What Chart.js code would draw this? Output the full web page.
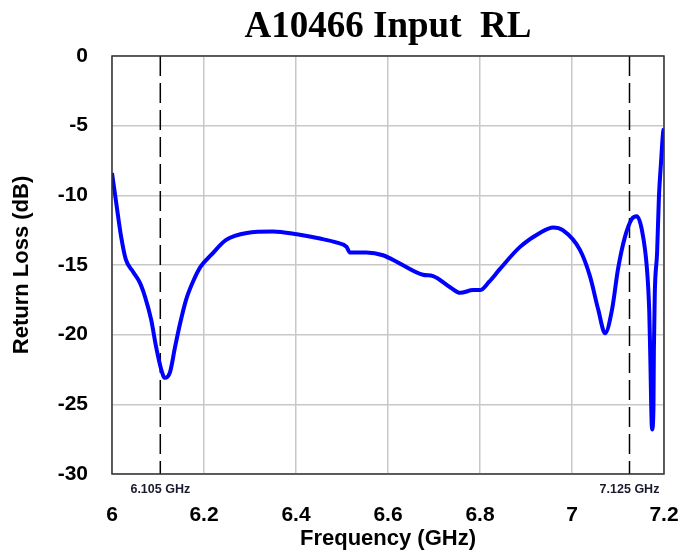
<!DOCTYPE html>
<html>
<head>
<meta charset="utf-8">
<script src="https://cdn.jsdelivr.net/npm/chart.js@4/dist/chart.umd.min.js"></script>
<style>
  html, body { margin: 0; padding: 0; background: #fff; }
  #wrap { width: 680px; height: 557px; }
</style>
</head>
<body>
<div id="wrap"><canvas id="rlChart" width="680" height="557"></canvas></div>
<script>
const freq = [6.000, 6.009, 6.020, 6.030, 6.046, 6.061, 6.072, 6.085, 6.096, 6.107, 6.115, 6.126, 6.137, 6.148, 6.161, 6.176, 6.193, 6.215, 6.248, 6.293, 6.350, 6.402, 6.452, 6.489, 6.510, 6.517, 6.530, 6.553, 6.589, 6.626, 6.676, 6.698, 6.735, 6.757, 6.785, 6.800, 6.820, 6.843, 6.887, 6.930, 6.959, 6.980, 7.017, 7.039, 7.057, 7.072, 7.087, 7.100, 7.115, 7.130, 7.141, 7.152, 7.163, 7.168, 7.170, 7.174, 7.177, 7.178, 7.180, 7.185, 7.189, 7.193, 7.198, 7.200];
const returnLoss = [-8.4, -10.5, -13.0, -14.6, -15.5, -16.3, -17.3, -18.9, -20.9, -22.5, -23.1, -22.7, -20.9, -19.2, -17.5, -16.2, -15.1, -14.3, -13.2, -12.7, -12.6, -12.8, -13.1, -13.4, -13.7, -14.1, -14.1, -14.1, -14.3, -14.9, -15.7, -15.8, -16.6, -17.0, -16.8, -16.8, -16.2, -15.3, -13.7, -12.7, -12.3, -12.5, -13.9, -15.8, -18.2, -19.9, -18.2, -15.3, -13.0, -11.7, -11.5, -12.5, -15.3, -18.4, -21.3, -26.8, -25.4, -21.1, -17.0, -14.1, -10.1, -7.9, -5.5, -5.2];
const markerFreqs = [6.105, 7.125];
const markerLabels = ["6.105 GHz", "7.125 GHz"];
const xTicks = [6, 6.2, 6.4, 6.6, 6.8, 7, 7.2];
const yTicks = [0, -5, -10, -15, -20, -25, -30];

const ctx = document.getElementById("rlChart").getContext("2d");
const sans = "'Liberation Sans', Arial, sans-serif";

const curve = freq.map((f, i) => ({ x: f, y: returnLoss[i] }));

const markerSets = markerFreqs.map(f => ({
  data: [{ x: f, y: 0 }, { x: f, y: -30 }],
  borderColor: "#000",
  borderWidth: 1.5,
  borderDash: [20, 7],
  pointRadius: 0,
  fill: false
}));

// title centred on the plot area, marker labels under the axis, frame
const extras = {
  id: "extras",
  afterDraw(chart) {
    const c = chart.ctx;
    const area = chart.chartArea;
    const xs = chart.scales.x;
    c.save();
    c.fillStyle = "#000";
    c.textAlign = "center";
    c.textBaseline = "middle";
    c.font = "bold 37px 'Liberation Serif', 'Times New Roman', serif";
    c.fillText("A10466 Input  RL", (area.left + area.right) / 2, 27);
    c.font = "bold 12.5px " + sans;
    c.fillStyle = "#1a1a2e";
    markerFreqs.forEach((f, i) => {
      c.fillText(markerLabels[i], xs.getPixelForValue(f), area.bottom + 16);
    });
    c.strokeStyle = "#333";
    c.lineWidth = 1.5;
    c.strokeRect(area.left, area.top, area.right - area.left, area.bottom - area.top);
    c.restore();
  }
};

new Chart(ctx, {
  type: "line",
  data: {
    datasets: [{
      data: curve,
      borderColor: "#0000ff",
      borderWidth: 4,
      pointRadius: 0,
      cubicInterpolationMode: "monotone",
      fill: false
    }, ...markerSets]
  },
  options: {
    responsive: false,
    animation: false,
    layout: { padding: { top: 56, right: 16, left: 0, bottom: 0 } },
    plugins: { legend: { display: false }, tooltip: { enabled: false } },
    scales: {
      x: {
        type: "linear",
        min: 6, max: 7.2,
        afterBuildTicks: s => { s.ticks = xTicks.map(v => ({ value: v })); },
        afterFit: s => { s.height = 83; s.paddingLeft = 0; s.paddingRight = 0; },
        grid: { color: "#c8c8c8", lineWidth: 1.5, drawTicks: false },
        border: { display: false },
        ticks: {
          padding: 29,
          color: "#000",
          font: { family: sans, size: 21, weight: "bold" },
          callback: v => String(Math.round(v * 10) / 10)
        },
        title: {
          display: true,
          text: "Frequency (GHz)",
          color: "#000",
          padding: { top: 0, bottom: 5 },
          font: { family: sans, size: 22, weight: "bold" }
        }
      },
      y: {
        min: -30, max: 0,
        afterBuildTicks: s => { s.ticks = yTicks.map(v => ({ value: v })); },
        afterFit: s => { s.width = 112; s.paddingTop = 0; s.paddingBottom = 0; },
        grid: { color: "#c8c8c8", lineWidth: 1.5, drawTicks: false },
        border: { display: false },
        ticks: {
          padding: 24,
          color: "#000",
          font: { family: sans, size: 21, weight: "bold" }
        },
        title: {
          display: true,
          text: "Return Loss (dB)",
          color: "#000",
          padding: { top: 9, bottom: 0 },
          font: { family: sans, size: 22, weight: "bold" }
        }
      }
    }
  },
  plugins: [extras]
});
</script>
</body>
</html>
